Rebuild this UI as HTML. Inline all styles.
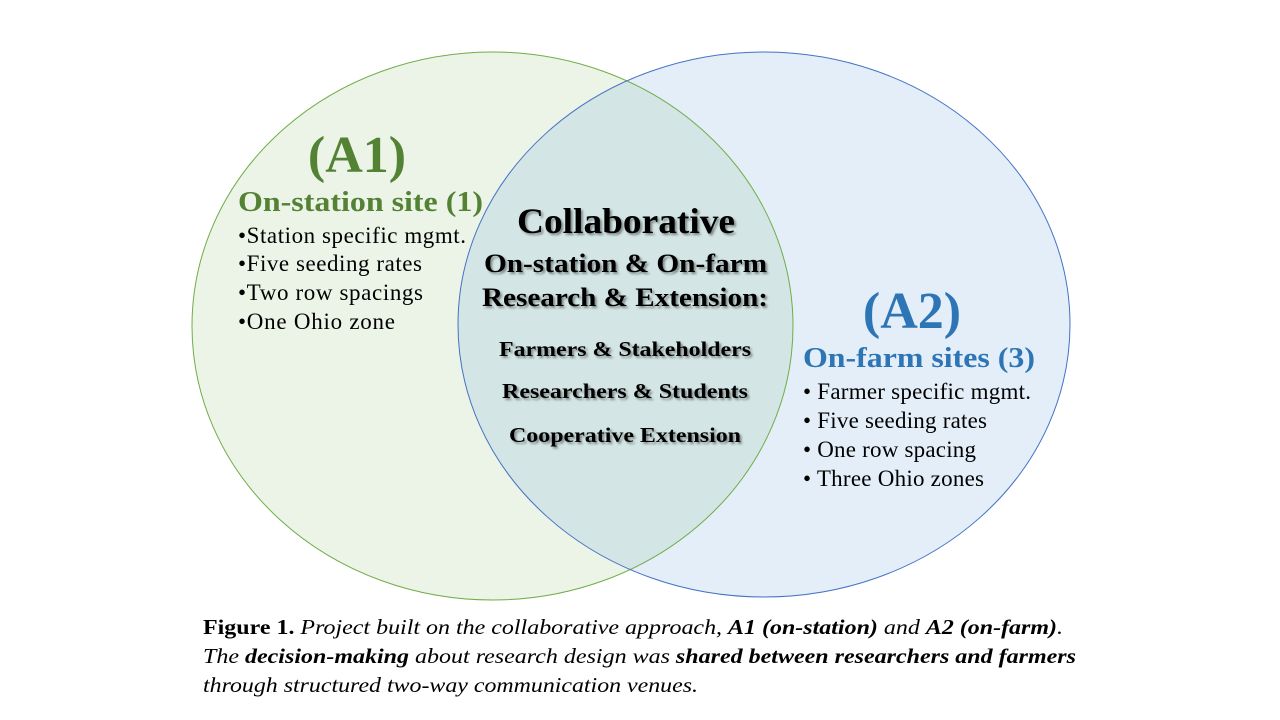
<!DOCTYPE html>
<html><head><meta charset="utf-8"><style>
html,body{margin:0;padding:0;background:#fff;}
svg{display:block;font-family:"Liberation Serif",serif;}
.sh{filter:drop-shadow(2px 2px 1px rgba(0,0,0,0.4));}
</style></head><body>
<svg width="1280" height="720" viewBox="0 0 1280 720" xmlns="http://www.w3.org/2000/svg">
<rect width="1280" height="720" fill="#fff"/>
<ellipse cx="492.5" cy="326" rx="300.5" ry="274" fill="#70ad47" fill-opacity="0.13"/>
<ellipse cx="764" cy="324.5" rx="306" ry="272.5" fill="#5b9bd5" fill-opacity="0.17"/>
<ellipse cx="492.5" cy="326" rx="300.5" ry="274" fill="none" stroke="#70ad47" stroke-width="1"/>
<ellipse cx="764" cy="324.5" rx="306" ry="272.5" fill="none" stroke="#4472c4" stroke-width="1"/>

<text x="357" y="172" text-anchor="middle" font-size="52" font-weight="bold" fill="#548235">(A1)</text>
<text x="238" y="211" font-size="28" font-weight="bold" fill="#548235" textLength="245" lengthAdjust="spacingAndGlyphs">On-station site (1)</text>
<g font-size="23" fill="#000" lengthAdjust="spacingAndGlyphs">
<text x="238" y="243" textLength="228">•Station specific mgmt.</text>
<text x="238" y="271" textLength="184">•Five seeding rates</text>
<text x="238" y="300" textLength="185">•Two row spacings</text>
<text x="238" y="329" textLength="157">•One Ohio zone</text>
</g>

<text x="912" y="328" text-anchor="middle" font-size="52" font-weight="bold" fill="#2e75b6">(A2)</text>
<text x="803" y="367" font-size="28" font-weight="bold" fill="#2e75b6" textLength="232" lengthAdjust="spacingAndGlyphs">On-farm sites (3)</text>
<g font-size="23" fill="#000">
<text x="803" y="399" textLength="228">• Farmer specific mgmt.</text>
<text x="803" y="428" textLength="184">• Five seeding rates</text>
<text x="803" y="457" textLength="173">• One row spacing</text>
<text x="803" y="486" textLength="181">• Three Ohio zones</text>
</g>

<g class="sh" font-weight="bold" fill="#000">
<text x="517" y="233" font-size="36" textLength="218" lengthAdjust="spacingAndGlyphs">Collaborative</text>
<text x="484" y="272" font-size="26" textLength="283" lengthAdjust="spacingAndGlyphs">On-station &amp; On-farm</text>
<text x="482" y="306" font-size="26" textLength="286" lengthAdjust="spacingAndGlyphs">Research &amp; Extension:</text>
<text x="499" y="356" font-size="21" textLength="252" lengthAdjust="spacingAndGlyphs">Farmers &amp; Stakeholders</text>
<text x="502" y="398" font-size="21" textLength="246" lengthAdjust="spacingAndGlyphs">Researchers &amp; Students</text>
<text x="509" y="442" font-size="21" textLength="232" lengthAdjust="spacingAndGlyphs">Cooperative Extension</text>
</g>

<g font-size="21" fill="#000">
<text x="203" y="634" textLength="860" lengthAdjust="spacingAndGlyphs"><tspan font-weight="bold">Figure 1.</tspan><tspan font-style="italic"> Project built on the collaborative approach, </tspan><tspan font-style="italic" font-weight="bold">A1 (on-station)</tspan><tspan font-style="italic"> and </tspan><tspan font-style="italic" font-weight="bold">A2 (on-farm)</tspan><tspan font-style="italic">.</tspan></text>
<text x="203" y="663" font-style="italic" textLength="873" lengthAdjust="spacingAndGlyphs">The <tspan font-weight="bold">decision-making</tspan> about research design was <tspan font-weight="bold">shared between researchers and farmers</tspan></text>
<text x="203" y="692" font-style="italic" textLength="495" lengthAdjust="spacingAndGlyphs">through structured two-way communication venues.</text>
</g>
</svg>
</body></html>
